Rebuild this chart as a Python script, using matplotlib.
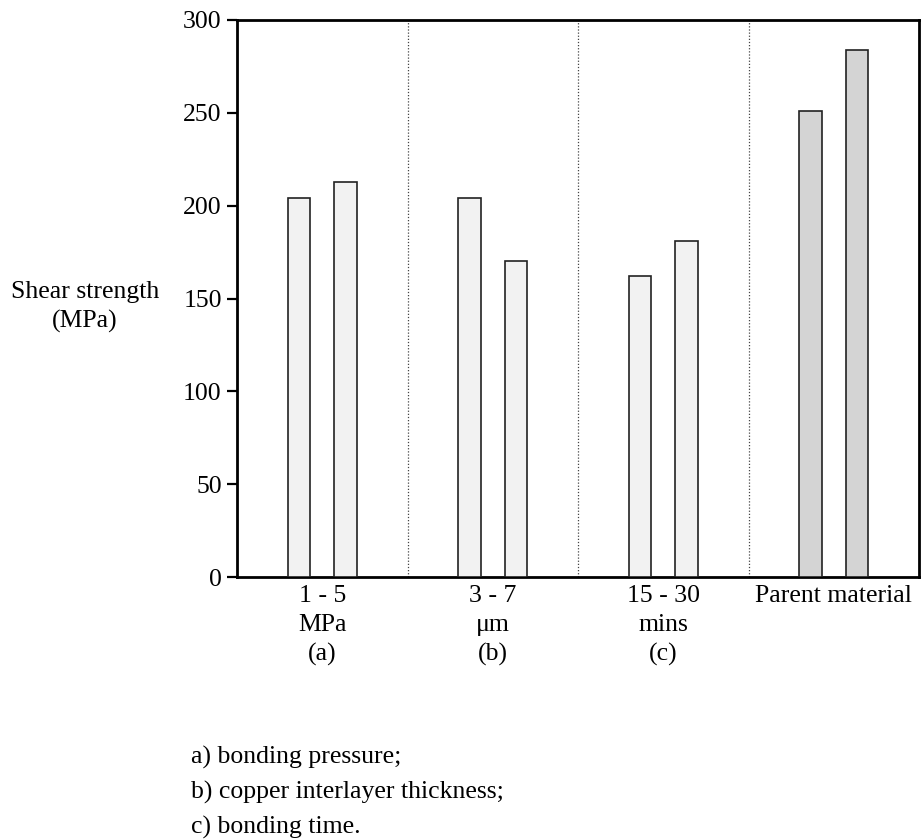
import matplotlib
matplotlib.use("Agg")
import matplotlib.pyplot as plt

plt.rcParams['font.family'] = ['Liberation Serif', 'DejaVu Serif']

categories = ["1 - 5\nMPa\n(a)", "3 - 7\nμm\n(b)", "15 - 30\nmins\n(c)", "Parent material"]
low_values = [204, 204, 162, 251]
high_values = [213, 170, 181, 284]
bar_colors = ["#f2f2f2", "#f2f2f2", "#f2f2f2", "#d4d4d4"]
y_ticks = [0, 50, 100, 150, 200, 250, 300]
notes = ["a) bonding pressure;", "b) copper interlayer thickness;", "c) bonding time."]

FS = 18.5

fig = plt.figure(figsize=(9.23, 8.40), dpi=100)
ax = fig.add_axes([237/923, 1-577/840, (919-237)/923, (577-20)/840])

centers = [i + 0.5 for i in range(len(categories))]
w = 0.132
off = 0.135
for c, lo, hi, col in zip(centers, low_values, high_values, bar_colors):
    ax.bar(c - off, lo, width=w, color=col, edgecolor="#222222", linewidth=1.2, zorder=3)
    ax.bar(c + off, hi, width=w, color=col, edgecolor="#222222", linewidth=1.2, zorder=3)

for d in range(1, len(categories)):
    ax.axvline(d, color="#444444", linestyle=(0, (1, 1.5)), linewidth=0.9, zorder=1)

ax.set_xlim(0, len(categories))
ax.set_ylim(0, 300)
ax.set_yticks(y_ticks)
ax.set_yticklabels([str(t) for t in y_ticks], fontsize=FS)
ax.set_xticks(centers)
ax.set_xticklabels(categories, fontsize=FS, linespacing=1.4)
ax.tick_params(axis='x', length=0, pad=6)
ax.tick_params(axis='y', length=7, width=1.6, direction='out', pad=4)
for s in ax.spines.values():
    s.set_linewidth(2)

fig.text(85/923, 1-307/840, "Shear strength\n(MPa)", ha="center", va="center",
         fontsize=FS, linespacing=1.35)

for i, n in enumerate(notes):
    fig.text(191/923, 1-(757 + 35*i)/840, n, ha="left", va="center", fontsize=FS)

fig.savefig("out.png", dpi=100)
